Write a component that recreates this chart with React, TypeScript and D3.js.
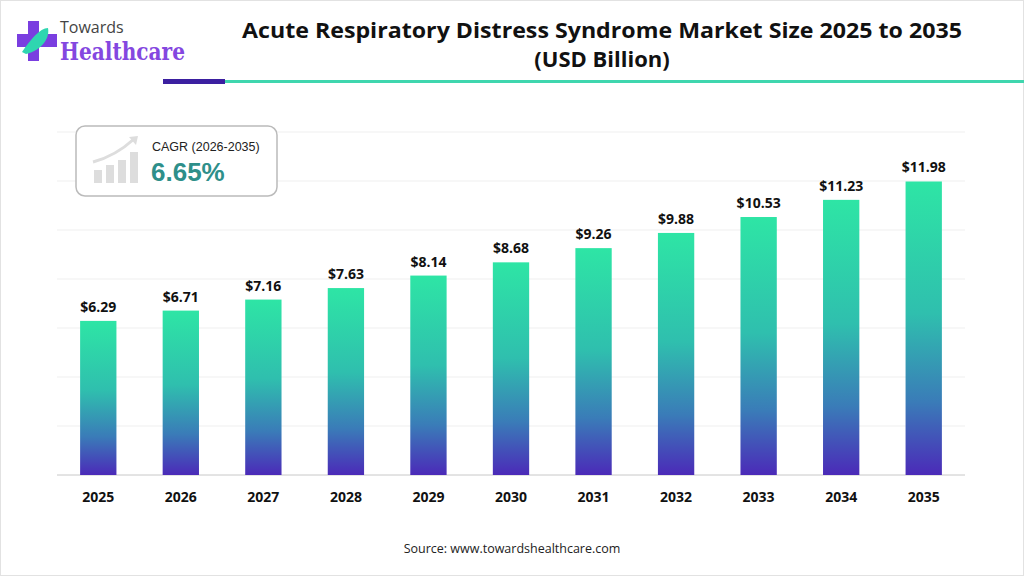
import * as d3 from "d3";

const years = ["2025", "2026", "2027", "2028", "2029", "2030", "2031", "2032", "2033", "2034", "2035"];
const values = [6.29, 6.71, 7.16, 7.63, 8.14, 8.68, 9.26, 9.88, 10.53, 11.23, 11.98];
const gridTicks = [0, 2, 4, 6, 8, 10, 12, 14];

export default function App() {
  const W = 1024, H = 576;
  const x = d3.scaleBand<string>().domain(years).range([57, 965]).paddingInner(0.56).paddingOuter(0.28);
  const y = d3.scaleLinear().domain([0, 14]).range([475, 132]);
  const font = "'Open Sans', 'DejaVu Sans', sans-serif";

  return (
    <svg width={W} height={H} style={{ position: "absolute", left: 0, top: 0, background: "#fff" }}>
      <defs>
        <linearGradient id="bar" x1="0" y1="0" x2="0" y2="1">
          <stop offset="0" stopColor="#2ee5a5" />
          <stop offset="0.45" stopColor="#2fbfae" />
          <stop offset="0.75" stopColor="#3a7cb8" />
          <stop offset="1" stopColor="#4b2ab8" />
        </linearGradient>
      </defs>
      <rect x={0.5} y={0.5} width={W - 1} height={H - 1} fill="#fff" stroke="#e2e2e2" />
      {/* logo */}
      <g>
        <rect x={28} y={21} width={11} height={40} fill="#7a3ee0" />
        <rect x={17} y={34} width={40} height={13} fill="#7a3ee0" />
        <path d="M22,52 C30,40 40,28 48,28 C50,38 42,50 26,54 Z" fill="#2fd6b0" />
        <text x={60} y={33} fontFamily={font} fontSize={16} fill="#444">Towards</text>
        <text x={60} y={60} fontFamily="'DejaVu Serif', serif" fontWeight="bold" fontSize={24} fill="#8447e0"
          textLength={125} lengthAdjust="spacingAndGlyphs">Healthcare</text>
      </g>
      <rect x={163} y={79} width={62} height={5} fill="#3b1fa0" />
      <rect x={225} y={80} width={799} height={3} fill="#3fd6ae" />
      <text x={602} y={38} textAnchor="middle" fontFamily={font} fontWeight="bold" fontSize={22} fill="#111"
        textLength={720} lengthAdjust="spacingAndGlyphs">
        Acute Respiratory Distress Syndrome Market Size 2025 to 2035
      </text>
      <text x={602} y={67} textAnchor="middle" fontFamily={font} fontWeight="bold" fontSize={22} fill="#111">
        (USD Billion)
      </text>
      {gridTicks.map((t) => (
        <line key={t} x1={57} x2={965} y1={y(t)} y2={y(t)} stroke={t === 0 ? "#c8c8c8" : "#efefef"} strokeWidth={1} />
      ))}
      {years.map((yr, i) => (
        <g key={yr}>
          <rect x={x(yr)} y={y(values[i])} width={x.bandwidth()} height={y(0) - y(values[i])} fill="url(#bar)" />
          <text x={x(yr)! + x.bandwidth() / 2} y={y(values[i]) - 9} textAnchor="middle" fontFamily={font}
            fontWeight="bold" fontSize={14} fill="#111">${values[i].toFixed(2)}</text>
          <text x={x(yr)! + x.bandwidth() / 2} y={502} textAnchor="middle" fontFamily={font}
            fontWeight="bold" fontSize={14} fill="#111">{yr}</text>
        </g>
      ))}
      {/* CAGR box */}
      <g>
        <rect x={76} y={126} width={201} height={70} rx={9} fill="#fff" stroke="#bbb" strokeWidth={1.5} />
        <g fill="#ddd">
          <rect x={94} y={170} width={8} height={13} />
          <rect x={106} y={165} width={8} height={18} />
          <rect x={118} y={160} width={8} height={23} />
          <rect x={130} y={152} width={8} height={31} />
        </g>
        <path d="M93,162 C108,158 122,150 134,139" fill="none" stroke="#ddd" strokeWidth={3} />
        <path d="M129,137 L138,136 L136,145 Z" fill="#ddd" />
        <text x={152} y={151} fontFamily="'Liberation Sans', Arial, sans-serif" fontSize={12.5} fill="#222">CAGR (2026-2035)</text>
        <text x={151} y={181} fontFamily="'Liberation Sans', Arial, sans-serif" fontWeight="bold" fontSize={26} fill="#2e8f8a">6.65%</text>
      </g>
      <text x={512} y={553} textAnchor="middle" fontFamily={font} fontSize={12.5} fill="#222">
        Source: www.towardshealthcare.com
      </text>
    </svg>
  );
}
